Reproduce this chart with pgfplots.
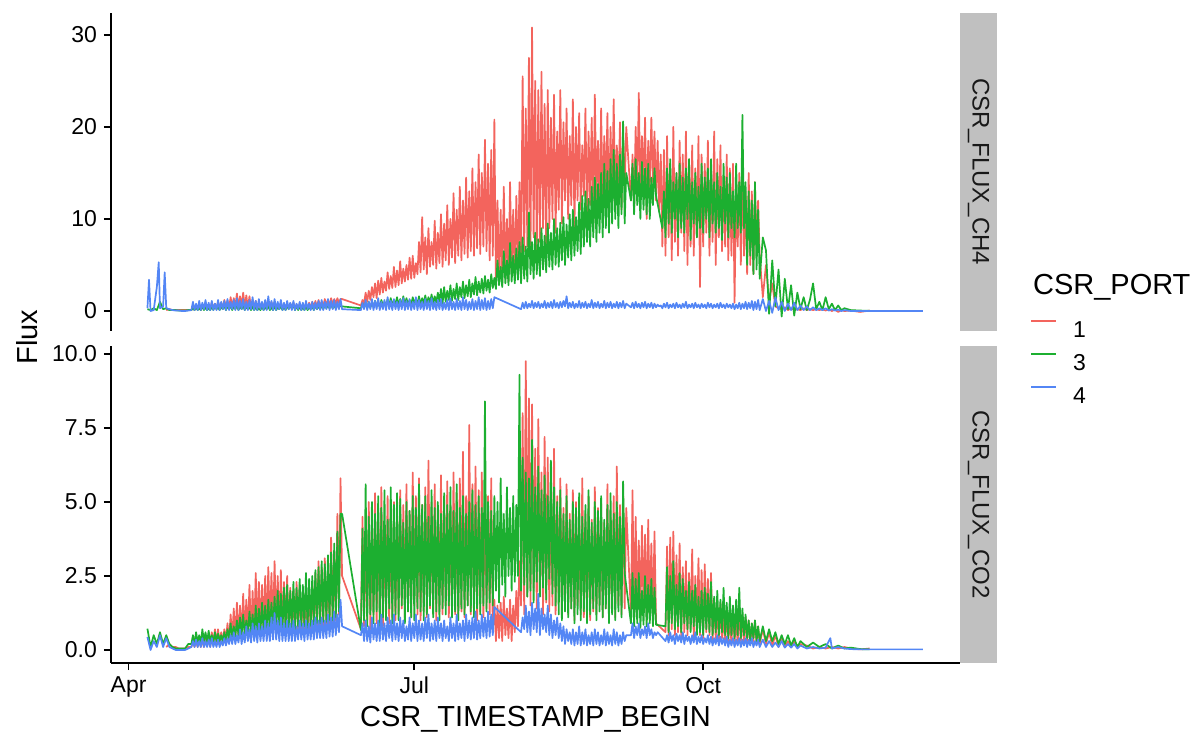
\documentclass[border=0pt]{standalone}
\usepackage{pgfplots}
\pgfplotsset{compat=1.18}
\usepackage{pgfplotstable}
\usepackage{fontspec}
\setmainfont{Liberation Sans}
\definecolor{cA}{HTML}{F3645D}
\definecolor{cB}{HTML}{1CAF30}
\definecolor{cC}{HTML}{5386F5}
\definecolor{stripgrey}{RGB}{192,192,192}

% CSR_FLUX_CH4 : d = days since 1 April; a = port 1, b = port 3, c = port 4
\pgfplotstableread{
d a b c
6 nan 0.2 0.3
6.5 nan nan 3.4
7 nan 0.1 0.0
8 nan 0.3 0.1
9 nan 0.1 2.6
9.6 nan nan 5.3
10 nan 1.0 0.3
11 nan 0.2 0.5
11.5 nan nan 4.2
12 0.1 0.3 0.3
13 0.2 0.1 0.2
14 0.1 0.1 0.1
15 0.1 0.1 0.05
16 0.1 0.05 0.05
17 0.1 0.05 0.0
18 0.1 0.05 0.0
19 0.1 0.1 0.05
20 0.1 0.1 0.1
20.5 0.6 0.3 1.0
21 0.1 0.1 0.1
21.5 0.5 0.4 0.8
22 0.2 0.1 0.1
22.5 0.7 0.3 1.1
23 0.1 0.1 0.1
23.5 0.6 0.5 0.9
24 0.2 0.1 0.2
24.5 0.8 0.4 1.2
25 0.2 0.1 0.1
25.5 0.7 0.3 0.9
26 0.2 0.1 0.1
26.5 0.9 0.5 1.1
27 0.3 0.1 0.1
27.5 0.8 0.6 0.8
28 0.2 0.2 0.1
28.5 1.0 0.4 1.2
29 0.3 0.1 0.1
29.5 0.9 0.5 1.0
30 0.3 0.2 0.2
30.5 1.2 0.6 1.1
31 0.4 0.1 0.1
31.5 1.1 0.5 1.3
32 0.3 0.2 0.1
32.5 1.5 0.6 1.0
33 0.4 0.1 0.2
33.5 1.4 0.5 1.2
34 0.5 0.2 0.1
34.5 1.9 0.6 1.4
35 0.4 0.1 0.1
35.5 1.6 0.5 1.1
36 0.5 0.2 0.2
36.5 2.0 0.6 1.3
37 0.4 0.1 0.1
37.5 1.7 0.5 1.0
38 0.3 0.2 0.1
38.5 1.6 0.4 1.2
39 0.3 0.1 0.2
39.5 1.2 0.5 1.5
40 0.3 0.1 0.1
40.5 1.1 0.4 1.1
41 0.2 0.1 0.1
41.5 1.0 0.3 1.3
42 0.3 0.1 0.2
42.5 0.9 0.5 1.0
43 0.2 0.1 0.1
43.5 1.1 0.4 1.2
44 0.3 0.2 0.1
44.5 0.8 0.5 1.6
45 0.2 0.1 0.2
45.5 1.0 0.4 1.1
46 0.3 0.1 0.1
46.5 0.9 0.5 1.3
47 0.2 0.1 0.1
47.5 0.7 0.4 1.0
48 0.3 0.2 0.2
48.5 0.8 0.6 1.2
49 0.2 0.1 0.1
49.5 0.7 0.5 0.9
50 0.2 0.1 0.1
50.5 0.6 0.6 1.1
51 0.3 0.2 0.2
51.5 0.8 0.8 0.9
52 0.2 0.2 0.1
52.5 0.9 0.7 1.1
53 0.3 0.1 0.1
53.5 0.7 0.6 0.8
54 0.2 0.1 0.2
54.5 0.8 0.5 1.0
55 0.3 0.1 0.1
55.5 0.6 0.4 0.9
56 0.2 0.1 0.1
56.5 0.7 0.5 1.1
57 0.3 0.1 0.2
57.5 0.9 0.4 0.8
58 0.3 0.2 0.1
58.5 1.0 0.5 1.0
59 0.4 0.1 0.1
59.5 1.1 0.6 0.9
60 0.4 0.2 0.2
60.5 1.2 0.5 1.1
61 0.5 0.2 0.1
61.5 1.0 0.6 1.2
62 0.5 0.2 0.1
62.5 1.3 0.7 1.0
63 0.6 0.3 0.2
63.5 1.2 0.6 1.3
64 0.6 0.3 0.1
64.5 1.4 0.7 1.1
65 0.7 0.3 0.2
65.5 1.3 0.6 1.2
66 0.8 0.3 0.1
66.5 1.4 0.7 1.0
67 0.9 0.4 0.2
67.5 1.3 0.6 1.3
68 1.3 0.5 0.2
74 0.6 0.3 0.1
74.5 1.2 0.8 0.9
75 0.8 0.4 0.2
75.5 2.0 0.9 1.2
76 1.0 0.3 0.1
76.5 2.2 1.0 1.0
77 1.2 0.4 0.2
77.5 2.6 0.8 1.3
78 1.5 0.5 0.1
78.5 3.0 1.1 1.1
79 1.4 0.5 0.2
79.5 3.3 0.9 1.4
80 1.8 0.4 0.1
80.5 3.6 1.2 1.0
81 2.0 0.6 0.2
81.5 3.2 1.0 1.2
82 2.2 0.5 0.1
82.5 4.2 1.3 1.5
83 2.4 0.6 0.2
83.5 3.8 1.4 1.1
84 2.5 0.5 0.1
84.5 4.8 1.2 1.3
85 2.6 0.7 0.2
85.5 4.4 1.5 1.0
86 2.8 0.6 0.1
86.5 5.4 1.3 1.2
87 3.0 0.5 0.2
87.5 4.6 1.6 1.4
88 3.2 0.6 0.1
88.5 5.0 1.4 1.1
89 3.4 0.7 0.2
89.5 5.8 1.2 1.3
90 3.5 0.6 0.1
90.5 6.0 1.5 1.0
91 3.6 0.8 0.2
91.5 5.2 1.3 1.5
92 4.0 0.7 0.1
92.5 7.5 1.6 1.2
93 4.2 0.6 0.2
93.5 10.2 1.4 1.0
94 4.5 0.8 0.1
94.5 8.0 1.7 1.3
95 4.0 0.7 0.2
95.5 9.0 1.5 1.1
96 4.8 0.9 0.1
96.5 7.5 1.8 1.4
97 5.0 0.8 0.2
97.5 9.8 1.6 1.0
98 4.6 0.9 0.1
98.5 8.5 2.0 1.2
99 5.2 1.0 0.2
99.5 10.5 2.4 1.3
100 4.8 0.8 0.1
100.5 9.5 2.6 0.9
101 5.5 1.0 0.2
101.5 11.5 2.2 1.2
102 5.0 1.2 0.1
102.5 10.0 2.8 1.4
103 5.8 1.1 0.2
103.5 12.8 2.4 1.0
104 5.2 1.3 0.1
104.5 11.0 3.0 1.3
105 6.0 1.2 0.2
105.5 13.5 2.6 1.1
106 5.5 1.5 0.1
106.5 12.0 3.2 1.5
107 6.2 1.4 0.2
107.5 14.5 2.8 1.2
108 5.8 1.6 0.1
108.5 13.0 3.4 1.0
109 6.5 1.5 0.2
109.5 15.5 3.0 1.3
110 6.0 1.8 0.1
110.5 14.0 3.7 1.1
111 6.8 1.7 0.2
111.5 17.0 3.2 1.5
112 6.2 2.0 0.1
112.5 15.0 3.5 1.2
113 7.0 1.9 0.2
113.5 18.6 3.8 1.4
114 6.5 2.2 0.1
114.5 16.0 3.4 1.1
115 5.5 2.0 0.2
115.5 17.5 4.0 1.3
116 6.0 2.5 0.3
116.5 20.8 3.6 1.5
117 2.6 2.4 nan
117.5 12.0 5.5 nan
118 3.0 2.8 nan
118.5 11.0 4.8 nan
119 2.8 2.6 nan
119.5 13.5 6.5 nan
120 3.5 3.0 nan
120.5 10.0 5.5 nan
121 3.2 2.8 nan
121.5 14.0 7.4 nan
122 4.0 3.2 nan
122.5 11.0 6.0 nan
123 3.8 3.0 nan
123.5 12.5 6.8 nan
124 4.2 3.4 nan
124.5 14.0 7.5 nan
125 5.0 3.0 0.2
125.5 25.5 8.0 0.9
126 6.5 3.5 0.3
126.5 22.0 7.0 1.0
127 7.0 3.2 0.3
127.5 27.5 10.7 0.8
128 6.0 4.0 0.4
128.5 30.8 7.5 1.1
129 8.0 3.5 0.3
129.5 25.0 8.5 0.9
130 6.0 4.0 0.4
130.5 24.0 7.8 1.0
131 7.5 3.8 0.3
131.5 26.0 9.0 0.8
132 9.0 4.5 0.4
132.5 22.5 8.2 1.1
133 6.5 4.2 0.3
133.5 24.0 9.5 0.9
134 9.0 4.8 0.4
134.5 21.0 8.5 1.0
135 10.0 4.5 0.3
135.5 23.5 10.0 1.2
136 8.5 5.0 0.4
136.5 19.5 9.0 0.9
137 11.0 4.8 0.3
137.5 24.0 9.6 1.0
138 9.5 5.5 0.4
138.5 20.5 10.2 1.1
139 12.0 5.0 0.5
139.5 22.0 9.4 1.6
140 10.0 5.8 0.3
140.5 19.0 10.5 0.9
141 11.5 5.5 0.4
141.5 23.0 11.0 1.0
142 9.0 6.0 0.3
142.5 20.0 10.2 0.8
143 12.0 6.5 0.4
143.5 21.5 11.8 1.1
144 11.0 6.2 0.3
144.5 18.0 12.5 0.9
145 12.5 7.0 0.4
145.5 22.0 13.0 1.0
146 10.0 7.5 0.3
146.5 19.5 12.2 0.8
147 11.5 7.0 0.4
147.5 21.0 13.5 1.2
148 9.0 8.0 0.3
148.5 23.5 14.5 0.9
149 12.0 7.5 0.4
149.5 18.5 13.8 1.0
150 10.5 8.5 0.3
150.5 22.0 15.0 0.8
151 11.0 8.0 0.4
151.5 19.0 16.0 1.1
152 12.5 9.0 0.3
152.5 21.5 15.2 0.9
153 10.0 8.5 0.4
153.5 20.0 16.5 1.0
154 11.5 9.5 0.3
154.5 23.0 17.5 0.8
155 11.0 10.0 0.4
155.5 18.0 16.0 1.0
156 12.5 9.0 0.3
156.5 20.5 17.0 0.9
157 11.0 10.5 0.4
157.5 19.0 20.6 1.1
158 13.0 9.5 0.3
158.5 20.0 15.0 0.8
160 12.0 12.0 0.4
160.5 17.0 16.0 0.9
161 11.0 10.5 0.3
161.5 20.0 16.5 1.0
162 13.0 11.5 0.4
162.5 23.7 15.0 0.8
163 12.5 10.0 0.3
163.5 19.0 16.2 0.9
164 14.0 11.0 0.4
164.5 21.0 15.5 1.0
165 10.0 10.5 0.3
165.5 18.5 16.0 0.8
166 13.5 10.0 0.4
166.5 21.0 14.5 0.9
167 14.0 11.5 0.3
167.5 19.5 15.5 0.8
168 12.0 12.5 0.4
168.5 18.5 nan 0.7
169 11.0 nan 0.5
169.5 17.0 nan 0.6
170 7.0 9.0 0.3
170.5 17.5 13.0 0.8
171 6.0 8.0 0.4
171.5 19.0 15.5 0.9
172 8.0 9.5 0.3
172.5 16.0 16.5 0.7
173 5.5 8.5 0.4
173.5 20.0 14.0 0.8
174 7.5 10.0 0.3
174.5 15.0 15.0 0.9
175 6.0 8.0 0.4
175.5 18.5 16.0 0.7
176 8.5 9.0 0.3
176.5 17.0 14.5 0.8
177 6.5 8.5 0.4
177.5 19.5 15.5 1.0
178 5.0 10.0 0.3
178.5 16.5 16.5 0.7
179 7.0 7.7 0.4
179.5 18.0 14.0 0.8
180 6.0 9.5 0.3
180.5 15.5 15.0 0.9
181 8.0 8.0 0.4
181.5 19.0 13.5 0.7
182 2.6 9.0 0.3
182.5 17.0 16.0 0.8
183 7.0 8.5 0.4
183.5 16.0 14.5 0.7
184 8.5 10.0 0.3
184.5 18.5 15.5 0.9
185 6.0 8.0 0.4
185.5 15.0 16.5 0.8
186 7.5 9.5 0.3
186.5 19.5 14.0 0.7
187 5.0 8.5 0.4
187.5 16.5 15.0 0.8
188 8.0 9.0 0.3
188.5 18.0 13.5 0.9
189 6.5 7.7 0.4
189.5 14.5 16.0 0.7
190 7.0 9.5 0.3
190.5 17.0 14.5 0.8
191 5.5 8.0 0.4
191.5 15.5 15.0 0.7
192 6.0 9.0 0.3
192.5 16.0 13.0 0.8
193 0.9 8.0 0.2
193.5 14.0 16.0 0.7
194 7.0 9.0 0.3
194.5 15.0 14.0 0.9
195 5.0 8.5 0.2
195.5 17.0 21.3 0.8
196 6.0 9.0 0.3
196.5 13.0 14.0 1.0
197 4.0 5.0 0.2
197.5 15.0 13.0 0.9
198 5.0 6.0 0.3
198.5 13.0 12.0 1.1
199 4.0 4.0 0.1
199.5 14.0 14.0 1.0
200 6.0 4.5 0.2
200.5 12.0 11.0 1.2
201 6.0 3.5 0.1
202 1.5 8.0 1.3
203 5.0 6.6 0.0
204 1.0 -0.3 1.1
205 3.0 5.5 -0.2
206 0.5 0.5 1.5
207 0.3 4.5 0.1
208 0.2 -0.6 1.0
209 0.4 3.5 0.0
210 0.1 0.2 0.8
211 0.3 2.8 0.1
212 0.1 -0.5 0.9
213 0.2 2.0 0.1
214 0.1 0.2 0.6
215 0.3 1.5 0.1
216 0.1 0.1 0.5
217 0.2 1.2 0.1
218 0.1 3.0 0.4
219 0.2 0.2 0.1
220 0.1 1.0 0.3
221 0.2 0.1 0.1
222 0.05 1.5 0.3
223 0.2 0.2 0.05
224 0.0 0.8 0.2
225 0.15 0.1 0.05
226 -0.1 0.6 0.15
227 0.1 0.1 0.0
228 0.0 0.3 0.1
230 0.05 0.1 0.0
233 -0.1 0.05 0.0
236 0.05 0.02 0.0
240 nan nan 0.0
245 nan nan 0.0
250 nan nan 0.0
253 nan nan 0.0
}\ch

% CSR_FLUX_CO2
\pgfplotstableread{
d a b c
6 nan 0.72 0.44
7 nan 0.1 0.0
8 nan 0.5 0.3
9 nan 0.2 0.1
10 nan 0.6 0.5
11 nan 0.2 0.1
12 0.1 0.5 0.4
13 0.2 0.2 0.1
14 0.1 0.1 0.05
15 0.1 0.05 0.0
16 0.05 0.05 0.0
17 0.05 0.05 0.0
18 0.05 0.05 0.0
19 0.1 0.2 0.05
20 0.1 0.2 0.1
20.5 0.3 0.5 0.3
21 0.1 0.2 0.1
21.5 0.3 0.6 0.35
22 0.1 0.25 0.1
22.5 0.4 0.5 0.3
23 0.1 0.2 0.1
23.5 0.35 0.7 0.4
24 0.1 0.3 0.1
24.5 0.5 0.6 0.3
25 0.15 0.25 0.1
25.5 0.4 0.65 0.35
26 0.1 0.3 0.1
26.5 0.6 0.5 0.4
27 0.2 0.25 0.1
27.5 0.7 0.6 0.3
28 0.2 0.3 0.1
28.5 0.7 0.55 0.35
29 0.2 0.3 0.1
29.5 0.6 0.5 0.3
30 0.25 0.3 0.15
30.5 0.7 0.6 0.4
31 0.3 0.3 0.15
31.5 0.9 0.7 0.4
32 0.3 0.4 0.2
32.5 1.2 0.9 0.5
33 0.4 0.4 0.2
33.5 1.4 0.8 0.6
34 0.35 0.45 0.2
34.5 1.6 1.0 0.5
35 0.4 0.5 0.25
35.5 1.5 1.1 0.7
36 0.45 0.5 0.2
36.5 1.9 1.2 0.6
37 0.5 0.5 0.25
37.5 1.7 1.0 0.8
38 0.5 0.55 0.3
38.5 2.2 1.3 0.7
39 0.5 0.6 0.25
39.5 2.0 1.2 0.9
40 0.55 0.5 0.3
40.5 2.6 1.5 0.8
41 0.6 0.55 0.25
41.5 2.3 1.4 0.9
42 0.6 0.6 0.3
42.5 2.2 1.6 0.8
43 0.6 0.6 0.3
43.5 2.5 1.5 1.0
44 0.65 0.6 0.3
44.5 2.8 1.7 0.9
45 0.7 0.65 0.3
45.5 2.6 1.6 1.1
46 0.7 0.7 0.35
46.5 3.0 1.8 1.25
47 0.7 0.7 0.35
47.5 2.5 2.0 1.0
48 0.6 0.7 0.3
48.5 2.7 1.9 1.1
49 0.6 0.6 0.3
49.5 2.3 2.1 0.9
50 0.6 0.7 0.3
50.5 2.5 2.2 1.0
51 0.65 0.7 0.3
51.5 2.1 2.0 0.9
52 0.6 0.75 0.3
52.5 2.0 2.3 1.0
53 0.6 0.7 0.3
53.5 2.3 2.1 0.8
54 0.65 0.8 0.35
54.5 2.2 2.4 1.0
55 0.7 0.8 0.35
55.5 1.9 2.2 0.9
56 0.6 0.8 0.3
56.5 2.1 2.6 1.0
57 0.65 0.75 0.35
57.5 1.9 2.4 0.9
58 0.7 0.8 0.35
58.5 2.3 2.5 1.0
59 0.75 0.85 0.35
59.5 2.6 2.7 1.1
60 0.8 0.9 0.4
60.5 3.0 2.8 1.0
61 0.8 0.9 0.4
61.5 2.8 3.0 1.1
62 0.8 0.95 0.4
62.5 3.1 2.9 1.0
63 0.85 0.95 0.4
63.5 2.7 3.2 1.2
64 0.9 1.0 0.45
64.5 3.8 3.3 1.1
65 0.9 1.0 0.45
65.5 3.3 3.6 1.3
66 1.0 1.1 0.5
66.5 4.6 4.0 1.2
67 1.2 1.3 0.6
67.5 5.8 4.6 1.7
68 2.5 4.6 0.8
74 0.7 0.67 0.5
74.5 4.5 4.1 0.9
75 0.8 1.0 0.3
75.5 3.8 5.6 1.0
76 1.0 0.8 0.3
76.5 5.0 4.5 0.8
77 0.7 1.2 0.25
77.5 4.2 5.0 1.1
78 1.2 0.9 0.35
78.5 5.3 4.6 0.9
79 0.9 1.3 0.3
79.5 4.8 5.2 1.0
80 1.0 0.8 0.3
80.5 5.5 4.8 1.2
81 0.8 1.1 0.35
81.5 4.0 5.4 0.9
82 1.3 1.0 0.3
82.5 5.2 4.4 1.1
83 0.9 1.4 0.4
83.5 4.5 5.5 1.0
84 1.1 0.9 0.3
84.5 5.0 4.9 1.2
85 1.0 1.2 0.35
85.5 4.6 5.3 0.9
86 1.2 1.0 0.3
86.5 5.4 5.1 1.1
87 1.4 1.5 0.4
87.5 4.9 4.3 1.0
88 1.0 0.9 0.3
88.5 5.6 5.0 0.8
89 1.3 1.3 0.35
89.5 4.7 4.7 1.1
90 1.1 1.1 0.3
90.5 6.0 5.2 0.9
91 1.5 1.0 0.4
91.5 5.2 4.8 1.2
92 1.2 1.4 0.3
92.5 5.8 5.6 1.0
93 1.0 1.3 0.35
93.5 4.9 4.9 0.9
94 1.3 1.0 0.3
94.5 5.5 5.2 1.1
95 1.1 1.2 0.4
95.5 6.4 4.5 1.2
96 1.4 1.5 0.3
96.5 5.0 5.4 0.9
97 1.2 1.1 0.35
97.5 5.6 4.8 1.0
98 1.0 1.3 0.3
98.5 4.8 5.0 1.1
99 1.3 1.0 0.4
99.5 5.9 4.6 0.9
100 1.2 1.4 0.3
100.5 5.1 5.3 1.0
101 1.5 1.2 0.4
101.5 5.7 4.9 0.8
102 1.1 1.5 0.3
102.5 4.9 5.5 1.1
103 1.4 1.1 0.4
103.5 6.0 4.7 0.9
104 1.2 1.3 0.3
104.5 5.3 5.6 1.2
105 1.0 1.0 0.35
105.5 5.8 4.8 0.9
106 1.3 1.4 0.4
106.5 6.7 5.2 1.0
107 1.1 1.2 0.3
107.5 5.2 4.6 1.2
108 1.5 1.5 0.4
108.5 7.6 5.0 1.0
109 1.2 1.3 0.35
109.5 5.6 5.4 1.1
110 1.4 1.1 0.4
110.5 6.2 4.9 1.3
111 1.0 1.4 0.35
111.5 5.4 5.2 1.0
112 1.3 1.2 0.4
112.5 6.0 4.8 1.2
113 1.1 1.5 0.45
113.5 5.5 8.4 1.1
114 1.4 1.3 0.4
114.5 5.2 5.0 1.3
115 1.2 1.6 0.45
115.5 5.8 4.7 1.2
116 0.6 1.5 0.5
116.5 1.7 5.2 1.45
117 0.3 2.0 nan
117.5 1.5 5.0 nan
118 0.4 1.6 nan
118.5 1.6 5.8 nan
119 0.3 2.2 nan
119.5 1.8 4.6 nan
120 0.5 1.8 nan
120.5 1.4 5.5 nan
121 0.4 2.5 nan
121.5 1.7 4.8 nan
122 0.3 2.0 nan
122.5 1.5 5.2 nan
123 0.6 2.3 nan
123.5 2.0 4.9 nan
124 0.8 2.5 nan
124.5 3.0 9.3 nan
125 1.5 2.0 0.6
125.5 8.0 6.5 1.1
126 1.2 2.2 0.7
126.5 9.76 6.0 1.5
127 1.8 1.8 0.6
127.5 8.5 5.8 1.3
128 1.5 2.0 0.5
128.5 8.3 7.1 1.6
129 2.0 1.6 0.7
129.5 6.8 5.5 1.4
130 1.4 2.3 0.6
130.5 7.8 6.2 1.9
131 1.8 1.8 0.5
131.5 6.0 5.4 1.4
132 1.2 2.1 0.7
132.5 7.2 5.9 1.2
133 1.6 1.7 0.6
133.5 6.5 5.2 1.5
134 1.3 2.4 0.5
134.5 5.5 6.4 1.2
135 1.5 1.9 0.4
135.5 6.8 5.5 1.0
136 1.2 1.5 0.5
136.5 5.2 5.0 1.1
137 1.6 1.2 0.4
137.5 5.8 5.4 0.9
138 1.1 1.0 0.3
138.5 4.8 4.6 0.8
139 1.5 1.3 0.2
139.5 5.6 5.2 0.7
140 1.2 1.1 0.3
140.5 4.6 4.4 0.6
141 1.4 1.4 0.2
141.5 5.4 5.0 0.7
142 1.0 0.9 0.15
142.5 5.0 4.8 0.6
143 1.5 1.2 0.2
143.5 4.2 5.3 0.8
144 1.2 1.0 0.15
144.5 5.8 4.5 0.6
145 1.1 1.3 0.2
145.5 4.6 4.9 0.7
146 1.4 0.9 0.15
146.5 5.2 5.4 0.5
147 1.0 1.2 0.2
147.5 4.4 4.3 0.6
148 1.3 1.4 0.15
148.5 5.5 5.0 0.7
149 1.2 1.0 0.2
149.5 4.8 4.7 0.6
150 1.5 1.3 0.15
150.5 5.0 5.2 0.5
151 1.1 1.1 0.2
151.5 4.3 4.4 0.7
152 1.4 1.4 0.15
152.5 5.6 4.9 0.6
153 1.0 0.9 0.2
153.5 4.7 5.3 0.5
154 1.3 1.2 0.15
154.5 5.2 4.6 0.7
155 1.1 1.0 0.2
155.5 6.2 5.0 0.6
156 1.5 1.3 0.15
156.5 4.9 4.5 0.5
157 1.2 1.1 0.2
157.5 5.3 5.7 0.6
158 1.4 2.6 0.3
158.5 4.8 nan 0.5
160 1.2 0.9 0.5
160.5 5.4 2.6 0.9
161 1.0 0.8 0.4
161.5 4.5 2.4 0.8
162 1.3 0.9 0.5
162.5 3.7 2.6 0.9
163 1.1 0.75 0.4
163.5 4.2 2.0 0.7
164 1.4 0.85 0.5
164.5 3.9 2.5 0.8
165 1.0 0.8 0.4
165.5 4.4 2.2 0.9
166 1.2 0.9 0.5
166.5 3.6 2.4 0.7
167 1.1 0.8 0.4
167.5 4.0 2.1 0.6
168 0.9 0.85 0.5
168.5 nan nan 0.6
171 0.6 0.8 0.3
171.5 3.5 2.8 0.5
172 0.5 0.6 0.25
172.5 3.8 2.5 0.6
173 0.7 0.9 0.3
173.5 4.0 3.0 0.5
174 0.5 0.7 0.2
174.5 3.2 2.2 0.55
175 0.6 0.8 0.3
175.5 3.6 2.6 0.5
176 0.4 0.6 0.25
176.5 2.8 2.4 0.6
177 0.6 0.9 0.2
177.5 3.0 2.0 0.5
178 0.5 0.7 0.3
178.5 2.6 2.3 0.45
179 0.7 0.6 0.2
179.5 3.4 2.0 0.5
180 0.4 0.8 0.25
180.5 2.5 2.2 0.6
181 0.6 0.5 0.2
181.5 3.1 1.8 0.45
182 0.5 0.6 0.25
182.5 2.7 2.0 0.5
183 0.4 0.5 0.2
183.5 2.9 2.1 0.4
184 0.6 0.7 0.25
184.5 2.4 1.9 0.5
185 0.5 0.6 0.2
185.5 2.6 2.3 0.45
186 0.3 0.5 0.15
186.5 1.7 1.8 0.4
187 0.4 0.6 0.2
187.5 1.5 2.0 0.5
188 0.3 0.5 0.15
188.5 1.6 1.7 0.45
189 0.4 0.6 0.2
189.5 1.2 2.1 0.4
190 0.2 0.5 0.15
190.5 1.4 1.6 0.45
191 0.3 0.4 0.1
191.5 1.1 1.8 0.35
192 0.2 0.5 0.15
192.5 1.3 1.5 0.4
193 0.3 0.4 0.1
193.5 1.0 1.7 0.35
194 0.2 0.5 0.15
194.5 1.4 2.1 0.4
195 0.3 0.4 0.1
195.5 1.2 1.4 0.35
196 0.2 0.5 0.15
196.5 1.1 1.2 0.4
197 0.3 0.4 0.1
197.5 1.0 1.0 0.35
198 0.2 0.3 0.15
198.5 0.9 0.9 0.4
199 0.3 0.4 0.1
199.5 1.0 1.0 0.3
200 0.2 0.3 0.15
200.5 0.8 0.8 0.35
201 0.2 0.3 0.1
202 0.7 0.8 0.35
203 0.2 0.3 0.1
204 0.6 0.7 0.3
205 0.15 0.3 0.1
206 0.5 0.6 0.25
207 0.1 0.2 0.1
208 0.4 0.5 0.3
209 0.1 0.2 0.08
210 0.3 0.5 0.2
211 0.1 0.15 0.08
212 0.3 0.4 0.2
213 0.1 0.1 0.05
214 0.2 0.3 0.15
216 0.15 0.1 0.05
218 0.05 0.25 0.1
220 0.1 0.1 0.05
222 0.05 0.2 0.08
223.5 nan nan 0.4
224 0.1 0.05 0.05
226 0.05 0.15 0.1
228 0.1 0.05 0.05
230 0.05 0.08 0.03
233 0.02 0.03 0.02
236 0.05 0.02 0.02
240 nan nan 0.02
245 nan nan 0.02
250 nan nan 0.02
253 nan nan 0.02
}\co

\begin{document}
\begin{tikzpicture}[x=0.5pt,y=0.5pt]
\useasboundingbox (0,0) rectangle (1200,750);
\pgfplotsset{
  panel/.style={
    scale only axis, width=424.5pt, anchor=south west,
    xmin=-5.6, xmax=264.8,
    axis y line*=left,
    tick align=outside, major tick length=3.5pt,
    axis line style={line width=0.9pt, black},
    every tick/.style={black, line width=0.9pt},
    tick label style={font=\fontsize{11.5}{12}\selectfont, black},
    /pgf/number format/assume math mode=true,
    every axis plot/.append style={line width=0.85pt, no markers, line join=round},
  }
}
% strips
\fill[stripgrey] (960,419) rectangle (997,737);
\fill[stripgrey] (960,87) rectangle (997,404);
\node[rotate=-90, font=\fontsize{12}{12}\selectfont, text=black!90] at (978.5,578) {CSR\_FLUX\_CH4};
\node[rotate=-90, font=\fontsize{12}{12}\selectfont, text=black!90] at (978.5,245.5) {CSR\_FLUX\_CO2};

\begin{axis}[panel, at={(55.5pt,209.5pt)}, height=159pt,
  ymin=-2.17, ymax=32.37, ytick={0,10,20,30},
  axis x line=none]
\addplot[cA] table[x=d,y=a]{\ch};
\addplot[cB] table[x=d,y=b]{\ch};
\addplot[cC] table[x=d,y=c]{\ch};
\end{axis}

\begin{axis}[panel, at={(55.5pt,43.5pt)}, height=158.5pt,
  ymin=-0.44, ymax=10.27, ytick={0,2.5,5,7.5,10},
  yticklabel style={/pgf/number format/.cd, fixed, fixed zerofill, precision=1},
  axis x line*=bottom,
  xtick={0,91,183}, xticklabels={Apr,Jul,Oct},
  legend style={draw=none, fill=none, inner sep=0pt, row sep=8pt, column sep=8pt,
    at={(axis description cs:1.0824,1.082)}, anchor=north west,
    font=\fontsize{11.5}{12}\selectfont,
    nodes={inner sep=0pt, text height=8pt, text depth=0pt}},
  legend cell align=left,
  legend image code/.code={\draw[#1, line width=0.9pt] (0pt,4pt) -- (12.5pt,4pt);}
  ]
\addplot[cA] table[x=d,y=a]{\co};
\addplot[cB] table[x=d,y=b]{\co};
\addplot[cC] table[x=d,y=c]{\co};
\legend{1,3,4}
\end{axis}

\node[font=\fontsize{14.5}{15}\selectfont] at (535.5,31) {CSR\_TIMESTAMP\_BEGIN};
\node[rotate=90, font=\fontsize{14.5}{15}\selectfont] at (27,413) {Flux};
\node[anchor=base west, font=\fontsize{14.5}{15}\selectfont] at (1026,455) {CSR\_PORT};
\end{tikzpicture}
\end{document}
